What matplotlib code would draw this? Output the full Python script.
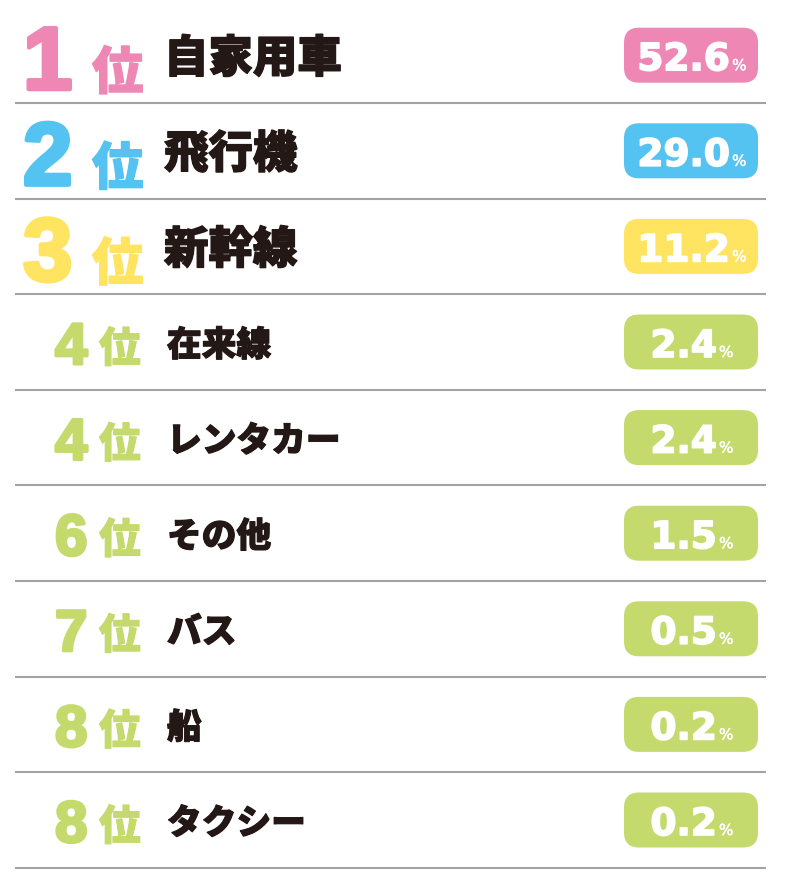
import matplotlib
matplotlib.use("Agg")
import matplotlib.pyplot as plt
from matplotlib.patches import FancyBboxPatch
import matplotlib.patheffects as pe

# data
ranks = [1, 2, 3, 4, 4, 6, 7, 8, 8]
labels = ["自家用車", "飛行機", "新幹線", "在来線", "レンタカー", "その他", "バス", "船", "タクシー"]
shares = [52.6, 29.0, 11.2, 2.4, 2.4, 1.5, 0.5, 0.2, 0.2]
badge_colors = ["#EE87B4", "#54C3F1", "#FFE462"] + ["#C4DA6D"] * 6

W, H = 788, 885
TXT = "#231815"
JP = ["Noto Sans CJK JP", "DejaVu Sans"]
NUM = "Liberation Sans"

fig = plt.figure(figsize=(W / 100, H / 100), dpi=100)
ax = fig.add_axes([0, 0, 1, 1])
ax.set_xlim(0, W)
ax.set_ylim(H, 0)
ax.axis("off")

row_h = 95.6
first_c = 55.2


def stroke(c, w):
    return [pe.withStroke(linewidth=w, foreground=c)]


renderer = fig.canvas.get_renderer()

for i, (rk, lab, val, col) in enumerate(zip(ranks, labels, shares, badge_colors)):
    cy = first_c + i * row_h
    top = i < 3

    # separator line
    ax.plot([15, 766], [cy + row_h / 2, cy + row_h / 2], color="#A3A3A3", lw=1.5, solid_capstyle="butt")

    # rank
    if top:
        ax.text(23, cy + 34, str(rk), fontsize=64, fontweight="bold", family=NUM,
                color=col, va="baseline", ha="left", path_effects=stroke(col, 3.0))
        ax.text(92, cy + 34, "位", fontsize=37, fontweight="black", family=JP,
                color=col, va="baseline", ha="left", path_effects=stroke(col, 1.0))
        ax.text(164, cy + 17, lab, fontsize=32, fontweight="black", family=JP,
                color=TXT, va="baseline", ha="left", path_effects=stroke(TXT, 1.0))
    else:
        ax.text(55, cy + 22, str(rk), fontsize=42, fontweight="bold", family=NUM,
                color=col, va="baseline", ha="left", path_effects=stroke(col, 2.2))
        ax.text(99, cy + 20, "位", fontsize=30, fontweight="black", family=JP,
                color=col, va="baseline", ha="left", path_effects=stroke(col, 0.8))
        ax.text(167, cy + 14, lab, fontsize=25, fontweight="black", family=JP,
                color=TXT, va="baseline", ha="left", path_effects=stroke(TXT, 0.8))

    # badge
    bw, bh = 134, 55
    ax.add_patch(FancyBboxPatch((691 - bw / 2, cy - bh / 2), bw, bh,
                                boxstyle="round,pad=0,rounding_size=15",
                                fc=col, ec="none"))
    t1 = ax.text(0, cy + 15, f"{val:.1f}", fontsize=27, fontweight="bold", family="DejaVu Sans",
                 color="white", va="baseline", ha="left", path_effects=stroke("white", 1.2))
    t2 = ax.text(0, cy + 15, "%", fontsize=11, family="DejaVu Sans",
                 color="white", va="baseline", ha="left", path_effects=stroke("white", 0.3))
    w1 = t1.get_window_extent(renderer).width
    w2 = t2.get_window_extent(renderer).width
    gap = 2
    x0 = 692 - (w1 + gap + w2) / 2
    t1.set_x(x0)
    t2.set_x(x0 + w1 + gap)

fig.savefig("out.png", dpi=100, facecolor="white")
